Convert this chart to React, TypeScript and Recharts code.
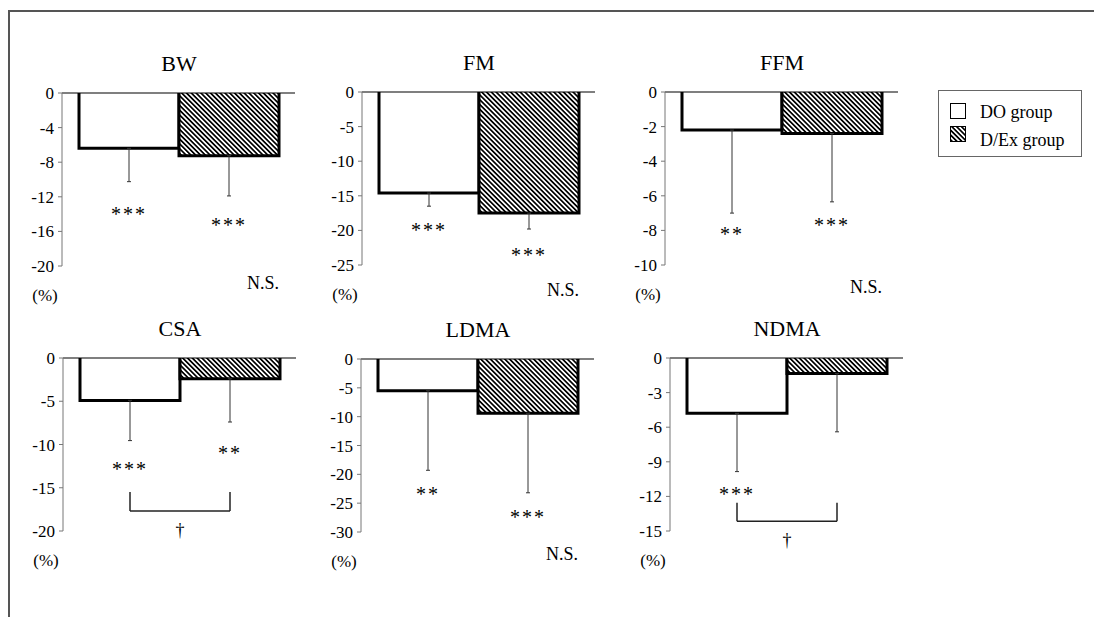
import React from 'react'
import { BarChart, Bar, Cell, XAxis, YAxis, ErrorBar, ReferenceLine, ReferenceDot } from 'recharts'

const FONT = '"Liberation Serif", "Times New Roman", serif'

// panels, in reading order
const panelNames = ['BW', 'FM', 'FFM', 'CSA', 'LDMA', 'NDMA']
const groups = ['DO group', 'D/Ex group']

// mean change (%) and SD
const doMeans = [-6.4, -14.6, -2.2, -4.9, -5.5, -4.8]
const dexMeans = [-7.25, -17.5, -2.4, -2.4, -9.4, -1.35]
const doSD = [3.85, 1.9, 4.8, 4.65, 13.8, 5.05]
const dexSD = [4.65, 2.3, 3.95, 5.0, 13.8, 5.05]

const yTicks = [
  [0, -4, -8, -12, -16, -20],
  [0, -5, -10, -15, -20, -25],
  [0, -2, -4, -6, -8, -10],
  [0, -5, -10, -15, -20],
  [0, -5, -10, -15, -20, -25, -30],
  [0, -3, -6, -9, -12, -15],
]

// significance marks and where they sit (axis units)
const doStars = ['***', '***', '**', '***', '**', '***']
const dexStars = ['***', '***', '***', '**', '***', '']
const doStarY = [-13.7, -19.7, -8.1, -12.55, -23, -11.6]
const dexStarY = [-15, -23.3, -7.55, -10.7, -27.1, null]
const nsY = [-22, -28.6, -11.25, null, -33.8, null]
// between-group bracket [top, bottom], marked with a dagger
const bracketY: (number[] | null)[] = [null, null, null, [-15.5, -17.7], null, [-12.55, -14.15]]

// where each panel's y axis / zero line sits on the page
const panelPos = [
  { axisX: 62, zeroY: 93 },
  { axisX: 362, zeroY: 92 },
  { axisX: 665, zeroY: 92 },
  { axisX: 63, zeroY: 358 },
  { axisX: 361, zeroY: 359 },
  { axisX: 670, zeroY: 358 },
]

const AXIS_W = 55
const PLOT_W = 233
const PLOT_H = 173

const BarShape = (props: any) => {
  const { x, y, width, height, fill } = props
  const top = Math.min(y, y + height)
  const bottom = Math.max(y, y + height)
  return (
    <g>
      <rect x={x} y={top} width={width} height={bottom - top} fill={fill} />
      <path d={`M${x},${top}V${bottom}H${x + width}V${top}`} fill="none" stroke="#000" strokeWidth={3} />
    </g>
  )
}

const textAt = (text: string, opts: { dx?: number; dy?: number; anchor?: string; size?: number; spacing?: number }) =>
  (p: any) => {
    const vb = p.viewBox || {}
    const cx = (vb.x ?? 0) + (vb.width ?? 0) / 2 + (opts.dx ?? 0)
    const cy = (vb.y ?? 0) + (vb.height ?? 0) + (opts.dy ?? 0)
    return (
      <text
        x={cx}
        y={cy}
        textAnchor={opts.anchor ?? 'middle'}
        fontFamily={FONT}
        fontSize={opts.size ?? 17}
        letterSpacing={opts.spacing ?? 0}
        fill="#000"
      >
        {text}
      </text>
    )
  }

function Panel({ i }: { i: number }) {
  const data = [
    { group: groups[0], value: doMeans[i], err: [doSD[i], 0] },
    { group: groups[1], value: dexMeans[i], err: [dexSD[i], 0] },
  ]
  const ticks = yTicks[i]
  const min = ticks[ticks.length - 1]
  const hatchId = `hatch-${i}`
  const br = bracketY[i]
  const { axisX, zeroY } = panelPos[i]

  return (
    <div style={{ position: 'absolute', left: axisX - AXIS_W, top: zeroY - 10 }}>
      <BarChart
        width={AXIS_W + PLOT_W + 10}
        height={10 + PLOT_H + 60}
        data={data}
        margin={{ top: 10, right: 10, left: 0, bottom: 60 }}
        barCategoryGap={0}
        barGap={0}
      >
        <defs>
          <pattern id={hatchId} patternUnits="userSpaceOnUse" width={3.4} height={3.4} patternTransform="rotate(-45)">
            <rect width={3.4} height={3.4} fill="#fff" />
            <rect width={1.7} height={3.4} fill="#000" />
          </pattern>
        </defs>
        <XAxis dataKey="group" hide padding={{ left: 17, right: 16 }} />
        <YAxis
          domain={[min, 0]}
          ticks={ticks}
          interval={0}
          width={AXIS_W}
          tickSize={4}
          tickMargin={4}
          axisLine={{ stroke: '#777' }}
          tickLine={{ stroke: '#777' }}
          tick={{ fontSize: 17, fill: '#000', fontFamily: FONT }}
          label={{ content: (p: any) => {
            const vb = p.viewBox || {}
            return (
              <text x={vb.x + vb.width - 17} y={vb.y + vb.height + 35} textAnchor="middle" fontFamily={FONT} fontSize={17} fill="#000">
                (%)
              </text>
            )
          } }}
        />
        <Bar dataKey="value" shape={BarShape} isAnimationActive={false}>
          <Cell fill="#fff" />
          <Cell fill={`url(#${hatchId})`} />
          <ErrorBar dataKey="err" direction="y" width={2} stroke="#333" strokeWidth={1} />
        </Bar>
        <ReferenceLine y={0} stroke="#000" strokeWidth={1.2} />
        <ReferenceDot x={groups[0]} y={doStarY[i]} r={0} ifOverflow="visible"
          label={{ content: textAt(doStars[i], { dy: 9, size: 20, spacing: 2 }) }} />
        {dexStarY[i] !== null && (
          <ReferenceDot x={groups[1]} y={dexStarY[i] as number} r={0} ifOverflow="visible"
            label={{ content: textAt(dexStars[i], { dy: 9, size: 20, spacing: 2 }) }} />
        )}
        {nsY[i] !== null && (
          <ReferenceDot x={groups[1]} y={nsY[i] as number} r={0} ifOverflow="visible"
            label={{ content: textAt('N.S.', { dx: 50, dy: 6, anchor: 'end', size: 18 }) }} />
        )}
        {br && (
          <ReferenceLine segment={[{ x: groups[0], y: br[0] }, { x: groups[0], y: br[1] }]}
            stroke="#222" strokeWidth={1.5} ifOverflow="visible" />
        )}
        {br && (
          <ReferenceLine segment={[{ x: groups[1], y: br[0] }, { x: groups[1], y: br[1] }]}
            stroke="#222" strokeWidth={1.5} ifOverflow="visible" />
        )}
        {br && (
          <ReferenceLine segment={[{ x: groups[0], y: br[1] }, { x: groups[1], y: br[1] }]}
            stroke="#222" strokeWidth={1.5} ifOverflow="visible"
            label={{ content: textAt('\u2020', { dy: 25, size: 18 }) }} />
        )}
      </BarChart>
      <div
        style={{
          position: 'absolute',
          left: AXIS_W + 17,
          top: -30,
          width: 200,
          textAlign: 'center',
          fontFamily: FONT,
          fontSize: 22,
          lineHeight: '22px',
        }}
      >
        {panelNames[i]}
      </div>
    </div>
  )
}

function Swatch({ hatch }: { hatch?: boolean }) {
  return (
    <svg width={16} height={16} style={{ position: 'absolute', left: 0, top: 0 }}>
      <defs>
        <pattern id="legend-hatch" patternUnits="userSpaceOnUse" width={3.4} height={3.4} patternTransform="rotate(-45)">
          <rect width={3.4} height={3.4} fill="#fff" />
          <rect width={1.7} height={3.4} fill="#000" />
        </pattern>
      </defs>
      <rect x={0.5} y={0.5} width={15} height={15} fill={hatch ? 'url(#legend-hatch)' : '#fff'} stroke="#000" strokeWidth={1} />
    </svg>
  )
}

export default function App() {
  return (
    <div style={{ position: 'absolute', left: 0, top: 0, width: 1094, height: 617, background: '#fff', overflow: 'hidden', fontFamily: FONT }}>
      <div
        style={{
          position: 'absolute',
          left: 8,
          top: 10,
          width: 1086,
          height: 607,
          borderTop: '2px solid #555',
          borderLeft: '2px solid #555',
        }}
      />
      {panelNames.map((_, i) => (
        <Panel key={i} i={i} />
      ))}
      <div
        style={{
          position: 'absolute',
          left: 938,
          top: 90,
          width: 142,
          height: 65,
          border: '1.5px solid #666',
        }}
      />
      {groups.map((g, k) => (
        <div key={g} style={{ position: 'absolute', left: 950, top: k === 0 ? 103 : 126 }}>
          <Swatch hatch={k === 1} />
          <div
            style={{
              position: 'absolute',
              left: 30,
              top: k === 0 ? -1.4 : 4,
              whiteSpace: 'nowrap',
              fontSize: 18,
              lineHeight: '20px',
            }}
          >
            {g}
          </div>
        </div>
      ))}
    </div>
  )
}
